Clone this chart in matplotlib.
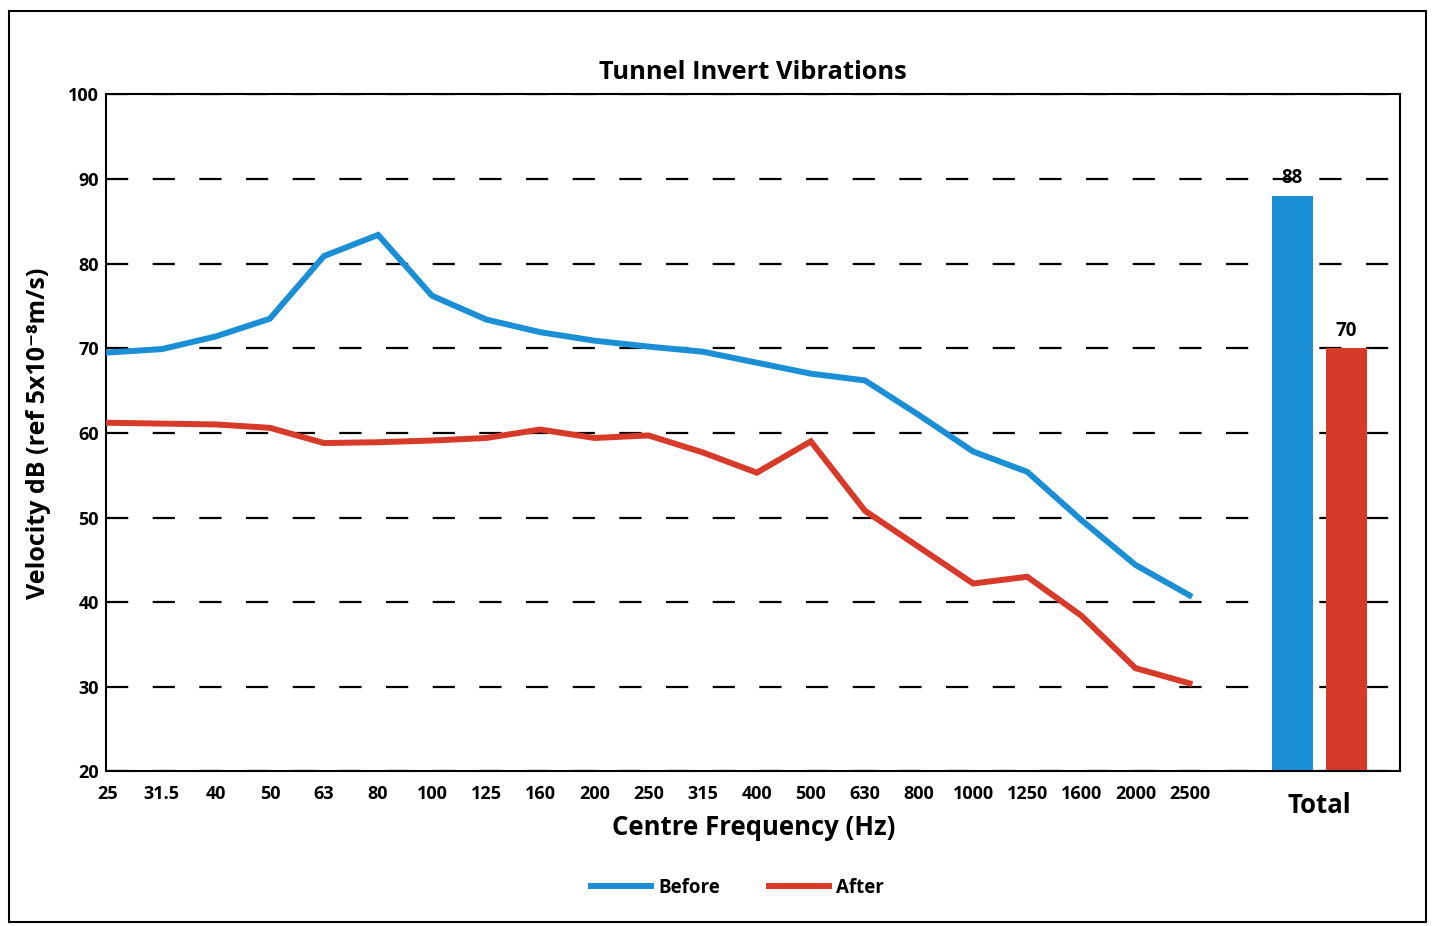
import matplotlib.pyplot as plt
from matplotlib.patches import Rectangle

plt.rcParams['font.family'] = ['Open Sans', 'DejaVu Sans']

freqs = ['25', '31.5', '40', '50', '63', '80', '100', '125', '160', '200', '250',
         '315', '400', '500', '630', '800', '1000', '1250', '1600', '2000', '2500']
before = [69.5, 69.9, 71.4, 73.5, 80.9, 83.4, 76.2, 73.4, 71.9, 70.9, 70.2,
          69.6, 68.3, 67.0, 66.2, 62.1, 57.8, 55.4, 49.7, 44.4, 40.8]
after = [61.2, 61.1, 61.0, 60.6, 58.8, 58.9, 59.1, 59.4, 60.4, 59.4, 59.7,
         57.7, 55.3, 59.0, 50.8, 46.5, 42.2, 43.0, 38.4, 32.2, 30.4]
totals = [88, 70]
total_labels = ['88', '70']

blue = '#1a8fd6'
red = '#d83a2a'

fig = plt.figure(figsize=(14.32, 9.26), dpi=100)
ax = fig.add_axes([0.074, 0.167, 0.904, 0.731])

x = list(range(len(freqs)))
ax.plot(x, before, color=blue, lw=4.3, label='Before', solid_joinstyle='miter', zorder=3)
ax.plot(x, after, color=red, lw=4.3, label='After', solid_joinstyle='miter', zorder=3)

# totals drawn as bars to the right of the spectrum
bar_x = [21.9, 22.9]
ax.bar(bar_x, totals, width=0.76, color=[blue, red], zorder=2)
for bx, val, lab in zip(bar_x, totals, total_labels):
    ax.text(bx, val + 0.9, lab, ha='center', va='bottom', fontsize=13.5,
            fontweight='bold')

ax.set_ylim(20, 100)
ax.set_xlim(-0.03, 23.9)
ax.set_yticks(range(20, 101, 10))
ax.set_xticks(x)
ax.set_xticklabels(freqs)
ax.tick_params(axis='both', length=0, labelsize=13)
ax.tick_params(axis='x', pad=10)
ax.tick_params(axis='y', pad=5)
for lab in ax.get_xticklabels() + ax.get_yticklabels():
    lab.set_fontweight('bold')

ax.text(22.4, -0.03, 'Total', transform=ax.get_xaxis_transform(), ha='center',
        va='top', fontsize=18.5, fontweight='bold')

ax.grid(axis='y', color='black', lw=1.6, linestyle=(0, (10, 11)))
ax.set_axisbelow(True)
for s in ax.spines.values():
    s.set_linewidth(1.5)

ax.set_title('Tunnel Invert Vibrations', fontsize=18.3, fontweight='bold', pad=11)
ax.set_xlabel('Centre Frequency (Hz)', fontsize=18.5, fontweight='bold', labelpad=8)
ax.set_ylabel('Velocity dB (ref 5x10\u207b\u2078m/s)', fontsize=18,
              fontweight='bold', labelpad=12)

fig.legend(loc='lower center', bbox_to_anchor=(0.515, 0.012), ncol=2, frameon=False,
           handlelength=3.2, handletextpad=0.4, columnspacing=2.6,
           prop={'weight': 'bold', 'size': 13.5})

fig.patches.append(Rectangle((0.006, 0.004), 0.99, 0.984, transform=fig.transFigure,
                             fill=False, ec='black', lw=1.5))

fig.savefig('out.png', dpi=100)
